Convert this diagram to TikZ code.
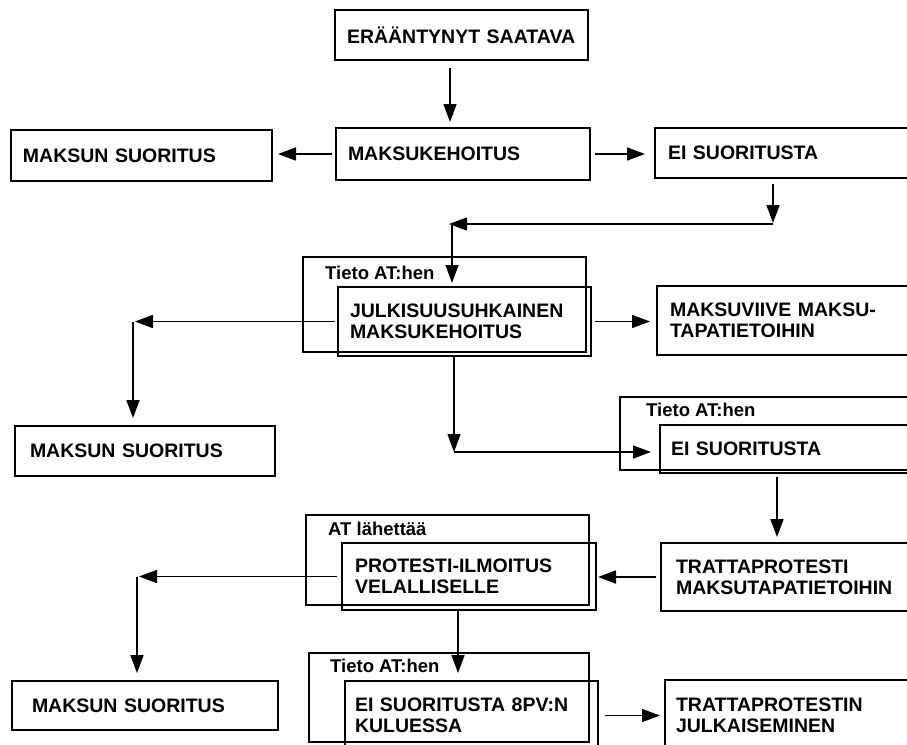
\documentclass[tikz,border=0pt]{standalone}
\usepackage{fontspec}
\setmainfont{Liberation Sans}
\usetikzlibrary{arrows.meta}
\tikzset{
  box/.style={draw, line width=1.6pt, anchor=north west, outer sep=0pt, inner ysep=0pt, align=left, font=\fontsize{19.5}{21}\selectfont\bfseries},
  grp/.style={draw, line width=1.6pt, anchor=north west, outer sep=0pt, inner sep=0pt},
  lab/.style={anchor=base west, inner sep=0pt, font=\fontsize{18.5}{20}\selectfont\bfseries},
  arr/.style={line width=1.6pt, -{Triangle[length=18pt,width=13pt]}}
}
\begin{document}
\begin{tikzpicture}[x=1pt,y=-1pt]
\useasboundingbox (0,0) rectangle (907,744);
\clip (0,0) rectangle (907,744);
% group frames
\node[grp, minimum width=283pt, minimum height=95pt] (g1) at (303,257) {};
\node[grp, minimum width=292pt, minimum height=73pt] (g2) at (620,397) {};
\node[grp, minimum width=283pt, minimum height=90pt] (g3) at (306,515) {};
\node[grp, minimum width=280pt, minimum height=89pt] (g4) at (309,653) {};
\node[lab] (g1l) at (325,279) {Tieto AT:hen};
\node[lab] (g2l) at (646,416) {Tieto AT:hen};
\node[lab] (g3l) at (328,535) {AT lähettää};
\node[lab] (g4l) at (330,672) {Tieto AT:hen};
% boxes
\node[box, minimum width=253pt, minimum height=50pt, inner xsep=12pt, text width=229pt] (era) at (335,10) {ERÄÄNTYNYT~SAATAVA};
\node[box, minimum width=254pt, minimum height=52pt, inner xsep=12pt, text width=230pt] (mk) at (336,128) {MAKSUKEHOITUS};
\node[box, minimum width=261pt, minimum height=51pt, inner xsep=12pt, text width=237pt] (ms1) at (11,130) {MAKSUN SUORITUS};
\node[box, minimum width=262pt, minimum height=50pt, inner xsep=13pt, text width=236pt] (eis1) at (655,128) {EI SUORITUSTA};
\node[box, minimum width=253pt, minimum height=69pt, inner xsep=12pt, text width=229pt] (jul) at (338,287) {JULKISUUSUHKAINEN\\MAKSUKEHOITUS};
\node[box, minimum width=260pt, minimum height=69pt, inner xsep=13pt, text width=234pt] (mv) at (657,286) {MAKSUVIIVE MAKSU-\\TAPATIETOIHIN};
\node[box, minimum width=260pt, minimum height=50pt, inner xsep=15pt, text width=230pt] (ms2) at (15,426) {MAKSUN SUORITUS};
\node[box, minimum width=257pt, minimum height=48pt, inner xsep=11pt, text width=235pt] (eis2) at (660,425) {EI SUORITUSTA};
\node[box, minimum width=254pt, minimum height=67pt, inner xsep=13pt, text width=228pt] (prot) at (342,543) {PROTESTI-ILMOITUS\\VELALLISELLE};
\node[box, minimum width=258pt, minimum height=68pt, inner xsep=15pt, text width=228pt] (tratta) at (661,543) {TRATTAPROTESTI\\MAKSUTAPATIETOIHIN};
\node[box, minimum width=266pt, minimum height=49pt, inner xsep=20pt, text width=226pt] (ms3) at (12,681) {MAKSUN SUORITUS};
\node[box, minimum width=253pt, minimum height=69pt, inner xsep=10pt, text width=233pt] (eis8) at (345,681) {EI SUORITUSTA 8PV:N\\KULUESSA};
\node[box, minimum width=252pt, minimum height=70pt, inner xsep=11pt, text width=230pt] (tjulk) at (665,680) {TRATTAPROTESTIN\\JULKAISEMINEN};
% helper coordinates
\coordinate (xa) at (450,0);
\coordinate (d1) at (773,224);
\coordinate (d2) at (452,224);
\coordinate (ex) at (133,0);
\coordinate (gc) at (454,452);
\coordinate (hx) at (777,0);
\coordinate (jx) at (137,0);
\coordinate (kx) at (458,0);
% connectors
\draw[arr, shorten <=8pt, shorten >=6pt] (era.south -| xa) -- (mk.north -| xa);
\draw[arr, shorten <=4pt, shorten >=6pt] (mk.west) -- (mk.west -| ms1.east);
\draw[arr, shorten <=5pt, shorten >=10pt] (mk.east) -- (mk.east -| eis1.west);
\draw[arr, shorten <=6pt, shorten >=1pt] (eis1.south -| d1) -- (d1);
\draw[arr, shorten >=-3pt] (d1) -- (d2);
\draw[arr, shorten >=4pt] (d2) -- (d2 |- jul.north);
\draw[arr, shorten <=3pt, shorten >=2pt] (jul.west) -- (jul.west -| ex);
\draw[arr, shorten >=8pt] (jul.west -| ex) -- (ms2.north -| ex);
\draw[arr, shorten <=4pt, shorten >=7pt] (jul.east) -- (jul.east -| mv.west);
\draw[arr] (jul.south -| gc) -- (gc);
\draw[arr, shorten >=9pt] (gc) -- (gc -| eis2.west);
\draw[arr, shorten <=4pt, shorten >=6pt] (eis2.south -| hx) -- (tratta.north -| hx);
\draw[arr, shorten <=5pt, shorten >=2pt] (tratta.west) -- (tratta.west -| prot.east);
\draw[arr, shorten <=5pt, shorten >=2pt] (prot.west) -- (prot.west -| jx);
\draw[arr, shorten >=8pt] (prot.west -| jx) -- (ms3.north -| jx);
\draw[arr, shorten >=8pt] (prot.south -| kx) -- (eis8.north -| kx);
\draw[arr, shorten <=7pt, shorten >=5pt] (eis8.east) -- (eis8.east -| tjulk.west);
\end{tikzpicture}
\end{document}
